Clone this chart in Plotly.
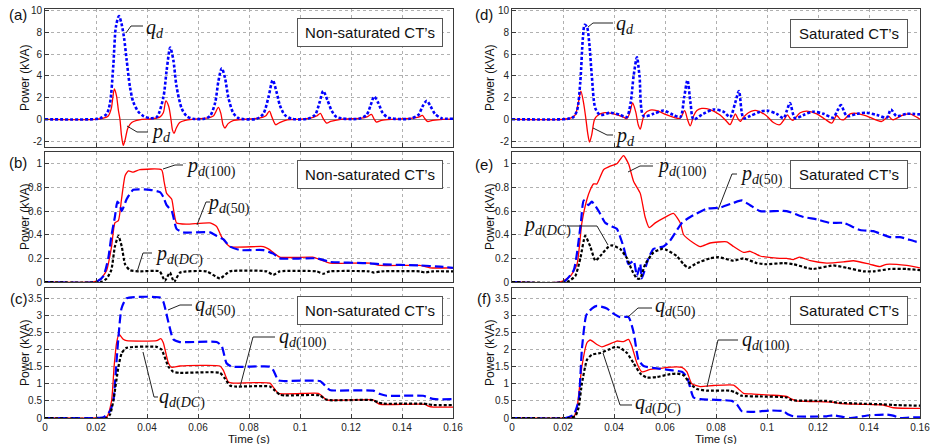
import plotly.graph_objects as go

W, H = 931, 444

# ---------------- data (time s, power kVA) ----------------
A_PD = [(0, 0), (0.020, 0), (0.0229, 0.1), (0.0248, 0.3), (0.026, 1.0), (0.0266, 2.0), (0.0272, 2.8),
        (0.028, 2.2), (0.0288, 0.8), (0.0294, 0), (0.030, -1.5), (0.0307, -2.4), (0.0315, -1.8),
        (0.0325, -0.8), (0.034, -0.3), (0.036, -0.1), (0.038, 0), (0.042, 0.05), (0.045, 0.2),
        (0.0464, 0.6), (0.0474, 1.7), (0.0485, 1.2), (0.0494, 0), (0.050, -1.0), (0.0506, -1.3),
        (0.0515, -0.8), (0.0528, -0.3), (0.055, -0.1), (0.058, 0), (0.063, 0.1), (0.066, 0.3),
        (0.068, 1.1), (0.069, 0.5), (0.0698, -0.5), (0.0706, -0.8), (0.0718, -0.4), (0.074, -0.1),
        (0.078, 0), (0.084, 0.1), (0.0865, 0.3), (0.088, 0.75), (0.089, 0.2), (0.0905, -0.5),
        (0.092, -0.3), (0.095, -0.05), (0.100, 0), (0.104, 0.1), (0.1065, 0.3), (0.108, 0.55),
        (0.109, 0.1), (0.1105, -0.35), (0.112, -0.2), (0.116, 0), (0.124, 0.1), (0.1265, 0.25),
        (0.128, 0.45), (0.129, 0.05), (0.130, -0.25), (0.132, -0.1), (0.136, 0), (0.144, 0.1),
        (0.1465, 0.2), (0.148, 0.35), (0.149, 0.05), (0.150, -0.2), (0.152, -0.1), (0.156, 0), (0.16, 0)]
A_QD = [(0, 0), (0.020, 0.02), (0.0216, 0.1), (0.0242, 0.5), (0.0255, 1.5), (0.0268, 5.0), (0.0278, 8.5),
        (0.029, 9.5), (0.030, 8.8), (0.031, 7.5), (0.032, 5.5), (0.0333, 3.0), (0.0346, 1.6),
        (0.0366, 0.7), (0.0386, 0.3), (0.0412, 0.1), (0.0438, 0.2), (0.0464, 2.0), (0.0477, 4.5),
        (0.0491, 6.6), (0.0503, 5.5), (0.0516, 3.0), (0.0536, 1.0), (0.0555, 0.3), (0.058, 0.05),
        (0.0625, 0.05), (0.0647, 0.3), (0.0667, 1.5), (0.068, 3.5), (0.0693, 4.7), (0.0706, 3.8),
        (0.0719, 2.0), (0.0738, 0.6), (0.076, 0.1), (0.083, 0.05), (0.0856, 0.5), (0.0876, 2.0),
        (0.0893, 3.6), (0.0908, 2.5), (0.0921, 1.3), (0.094, 0.4), (0.0967, 0.05), (0.103, 0.05),
        (0.1059, 0.4), (0.1076, 1.5), (0.1091, 2.6), (0.1107, 1.8), (0.1124, 0.8), (0.1144, 0.2),
        (0.123, 0.05), (0.1261, 0.4), (0.1277, 1.3), (0.1291, 2.1), (0.1307, 1.5), (0.1324, 0.6),
        (0.1346, 0.15), (0.143, 0.05), (0.1464, 0.4), (0.1481, 1.2), (0.1497, 1.7), (0.1512, 1.2),
        (0.1529, 0.5), (0.1555, 0.1), (0.16, 0.05)]

B_P100 = [(0, 0), (0.019, 0), (0.0216, 0.02), (0.0242, 0.1), (0.0261, 0.3), (0.0274, 0.5), (0.0288, 0.52),
          (0.030, 0.7), (0.0314, 0.9), (0.0327, 0.94), (0.0346, 0.93), (0.0372, 0.95), (0.0457, 0.95),
          (0.0467, 0.85), (0.0477, 0.75), (0.0497, 0.7), (0.0505, 0.6), (0.0516, 0.5), (0.0555, 0.49),
          (0.0647, 0.5), (0.0673, 0.47), (0.0693, 0.38), (0.0725, 0.3), (0.0856, 0.3), (0.0876, 0.28),
          (0.0895, 0.25), (0.0921, 0.21), (0.105, 0.21), (0.1078, 0.19), (0.1118, 0.16), (0.1274, 0.16),
          (0.1314, 0.14), (0.147, 0.14), (0.151, 0.12), (0.16, 0.12)]
B_P50 = [(0, 0), (0.020, 0), (0.0229, 0.05), (0.0248, 0.2), (0.0261, 0.4), (0.0274, 0.55), (0.0284, 0.68),
         (0.0294, 0.65), (0.0301, 0.6), (0.032, 0.7), (0.0346, 0.78), (0.0412, 0.78), (0.0451, 0.76),
         (0.0464, 0.72), (0.0477, 0.65), (0.0497, 0.6), (0.0516, 0.45), (0.0542, 0.42), (0.0647, 0.42),
         (0.0673, 0.39), (0.070, 0.36), (0.0725, 0.3), (0.0765, 0.27), (0.0856, 0.27), (0.0895, 0.24),
         (0.0921, 0.2), (0.1065, 0.2), (0.1118, 0.17), (0.1261, 0.16), (0.1314, 0.15), (0.147, 0.14),
         (0.155, 0.13), (0.16, 0.12)]
B_PDC = [(0, 0), (0.022, 0), (0.0242, 0.03), (0.026, 0.1), (0.0274, 0.3), (0.0288, 0.39), (0.0301, 0.3),
         (0.0314, 0.15), (0.0333, 0.1), (0.0372, 0.09), (0.045, 0.09), (0.047, 0.01), (0.049, 0.08),
         (0.0506, 0.0), (0.053, 0.08), (0.0634, 0.09), (0.0686, 0.03), (0.0725, 0.09), (0.0869, 0.09),
         (0.0895, 0.06), (0.0921, 0.09), (0.1065, 0.09), (0.109, 0.07), (0.1117, 0.09), (0.127, 0.09),
         (0.129, 0.08), (0.132, 0.09), (0.147, 0.09), (0.149, 0.08), (0.152, 0.09), (0.16, 0.09)]

C_Q50 = [(0, 0), (0.0196, 0), (0.0229, 0.02), (0.0255, 0.2), (0.0268, 0.5), (0.0284, 2.0), (0.030, 3.2),
         (0.032, 3.5), (0.0451, 3.52), (0.0464, 3.4), (0.0484, 2.8), (0.0503, 2.3), (0.0529, 2.22),
         (0.0673, 2.22), (0.0693, 2.1), (0.0712, 1.6), (0.0732, 1.5), (0.0882, 1.5), (0.0895, 1.4),
         (0.0915, 1.1), (0.094, 1.08), (0.1078, 1.08), (0.1098, 0.95), (0.1117, 0.82), (0.1287, 0.8),
         (0.1314, 0.7), (0.134, 0.65), (0.1483, 0.65), (0.151, 0.58), (0.153, 0.55), (0.16, 0.55)]
C_Q100 = [(0, 0), (0.020, 0), (0.0242, 0.03), (0.0261, 0.5), (0.0271, 1.5), (0.0281, 2.2), (0.029, 2.45),
          (0.0307, 2.3), (0.032, 2.26), (0.0438, 2.26), (0.0454, 2.32), (0.0464, 2.2), (0.0484, 1.6),
          (0.0497, 1.48), (0.0529, 1.52), (0.0686, 1.52), (0.0699, 1.4), (0.0719, 1.05), (0.0738, 1.02),
          (0.0882, 1.02), (0.0895, 0.9), (0.0915, 0.72), (0.1072, 0.72), (0.1085, 0.65), (0.1104, 0.53),
          (0.1287, 0.53), (0.1301, 0.45), (0.1314, 0.4), (0.149, 0.4), (0.1503, 0.35), (0.1523, 0.32),
          (0.16, 0.32)]
C_QDC = [(0, 0), (0.0242, 0), (0.0255, 0.1), (0.0268, 0.5), (0.0288, 1.5), (0.0301, 1.9), (0.032, 2.05),
         (0.0438, 2.08), (0.0457, 2.0), (0.0484, 1.5), (0.0503, 1.35), (0.0529, 1.32), (0.0686, 1.32),
         (0.0706, 1.15), (0.0725, 0.95), (0.0745, 0.92), (0.0882, 0.92), (0.0902, 0.8), (0.0921, 0.68),
         (0.094, 0.66), (0.1078, 0.66), (0.1098, 0.55), (0.1117, 0.52), (0.1287, 0.52), (0.1307, 0.45),
         (0.1327, 0.42), (0.1483, 0.42), (0.1503, 0.4), (0.1523, 0.38), (0.16, 0.38)]

D_PD = [(0, 0), (0.020, 0), (0.0229, 0.1), (0.0248, 0.4), (0.026, 1.5), (0.027, 2.6), (0.028, 1.6),
        (0.029, 0), (0.0297, -1.3), (0.0304, -2.1), (0.0312, -1.5), (0.0324, 0), (0.0338, 0.4),
        (0.0359, 0.6), (0.0398, 0.5), (0.0437, 0.2), (0.045, 0.05), (0.0462, 0.6), (0.0473, 1.5),
        (0.0485, 0.7), (0.0495, -0.5), (0.0503, -0.9), (0.051, -0.3), (0.052, 0.5), (0.0542, 0.85),
        (0.0568, 0.8), (0.0607, 0.4), (0.0646, 0.1), (0.066, 0.1), (0.0677, 0.8), (0.0688, 0.0),
        (0.0699, -0.6), (0.0712, 0.3), (0.0725, 0.8), (0.0744, 1.0), (0.0777, 0.9), (0.0816, 0.4),
        (0.0842, -0.2), (0.0855, -0.5), (0.0866, 0.0), (0.0876, 0.5), (0.0885, 0.1), (0.0895, -0.2),
        (0.0908, 0.2), (0.0927, 0.6), (0.0947, 0.8), (0.096, 0.8), (0.0999, 0.3), (0.1025, -0.3),
        (0.105, -0.5), (0.1068, 0), (0.108, 0.4), (0.109, 0.1), (0.1101, -0.1), (0.113, 0.6),
        (0.1156, 0.75), (0.1195, 0.5), (0.1228, 0), (0.1254, -0.35), (0.1273, 0.35), (0.1287, 0.0),
        (0.130, -0.05), (0.1326, 0.5), (0.135, 0.55), (0.1391, 0.3), (0.145, -0.2), (0.1476, 0.3),
        (0.1489, 0.0), (0.1495, -0.05), (0.1535, 0.4), (0.156, 0.5), (0.1587, 0.2), (0.16, 0.0)]
D_QD = [(0, 0), (0.020, 0), (0.022, 0.05), (0.024, 0.2), (0.0255, 0.8), (0.0268, 3.5), (0.0278, 7.5),
        (0.0285, 8.7), (0.0294, 8.5), (0.0303, 7.0), (0.0313, 4.0), (0.0327, 1.0), (0.0346, 0.4),
        (0.0385, 0.6), (0.0424, 0.4), (0.045, 0.2), (0.0465, 1.5), (0.0477, 4.0), (0.049, 5.7),
        (0.050, 4.0), (0.0516, 0.3), (0.0555, 0.5), (0.0594, 0.8), (0.0633, 0.4), (0.066, 0.2),
        (0.0675, 2.0), (0.0688, 3.6), (0.070, 1.5), (0.0712, 0.0), (0.075, 0.5), (0.079, 0.9),
        (0.0829, 0.7), (0.0855, 0.2), (0.0875, 1.5), (0.089, 2.6), (0.0908, 0.1), (0.0934, 0.3),
        (0.0973, 0.7), (0.0999, 0.8), (0.1038, 0.5), (0.1065, 0.1), (0.1078, 0.8), (0.109, 1.5),
        (0.111, 0.1), (0.1143, 0.4), (0.118, 0.7), (0.1222, 0.5), (0.126, 0.15), (0.1276, 0.8),
        (0.129, 1.3), (0.1313, 0.3), (0.1352, 0.5), (0.139, 0.6), (0.1431, 0.4), (0.147, 0.15),
        (0.1486, 0.9), (0.1508, 0.3), (0.1547, 0.5), (0.16, 0.45)]

E_P100 = [(0, 0), (0.019, 0), (0.0229, 0.05), (0.0255, 0.15), (0.0274, 0.5), (0.0294, 0.7), (0.0307, 0.78),
          (0.032, 0.83), (0.0333, 0.83), (0.0359, 0.95), (0.0385, 0.98), (0.0411, 1.0), (0.0437, 1.07),
          (0.0457, 1.0), (0.0477, 0.85), (0.0503, 0.75), (0.0522, 0.55), (0.0538, 0.46), (0.0562, 0.5),
          (0.0594, 0.54), (0.0633, 0.58), (0.066, 0.5), (0.0673, 0.4), (0.0712, 0.33), (0.0738, 0.3),
          (0.0777, 0.33), (0.0842, 0.34), (0.0869, 0.3), (0.0908, 0.25), (0.0934, 0.26), (0.0973, 0.22),
          (0.105, 0.2), (0.1077, 0.2), (0.1103, 0.19), (0.1129, 0.21), (0.117, 0.18), (0.1234, 0.16),
          (0.130, 0.17), (0.1339, 0.18), (0.1404, 0.15), (0.1443, 0.13), (0.1469, 0.15), (0.1548, 0.14),
          (0.16, 0.12)]
E_P50 = [(0, 0), (0.0202, 0), (0.0242, 0.1), (0.027, 0.5), (0.0281, 0.69), (0.030, 0.65), (0.0313, 0.68),
         (0.034, 0.6), (0.0366, 0.5), (0.0392, 0.47), (0.0411, 0.45), (0.0437, 0.3), (0.0457, 0.15),
         (0.0477, 0.18), (0.049, 0.05), (0.0503, 0.15), (0.0509, 0.03), (0.0535, 0.2), (0.0555, 0.28),
         (0.0594, 0.3), (0.062, 0.35), (0.0666, 0.5), (0.0699, 0.55), (0.0764, 0.62), (0.0816, 0.63),
         (0.0869, 0.67), (0.0901, 0.69), (0.0934, 0.65), (0.0973, 0.6), (0.1077, 0.6), (0.1143, 0.55),
         (0.1195, 0.53), (0.1247, 0.5), (0.130, 0.5), (0.1365, 0.44), (0.1417, 0.43), (0.1482, 0.38),
         (0.1521, 0.38), (0.1587, 0.34), (0.16, 0.34)]
E_PDC = [(0, 0), (0.0215, 0), (0.0248, 0.05), (0.0268, 0.2), (0.0287, 0.39), (0.0307, 0.3), (0.0327, 0.18),
         (0.0346, 0.22), (0.0379, 0.3), (0.0392, 0.31), (0.0424, 0.28), (0.0451, 0.2), (0.047, 0.1),
         (0.049, 0.03), (0.0503, 0.03), (0.0522, 0.15), (0.0555, 0.25), (0.0588, 0.28), (0.0607, 0.27),
         (0.0646, 0.22), (0.0673, 0.15), (0.0692, 0.12), (0.0725, 0.16), (0.0777, 0.2), (0.081, 0.21),
         (0.0869, 0.18), (0.0908, 0.2), (0.096, 0.16), (0.0999, 0.15), (0.1064, 0.16), (0.1104, 0.15),
         (0.1156, 0.12), (0.1182, 0.11), (0.126, 0.14), (0.1313, 0.12), (0.1378, 0.09), (0.1417, 0.09),
         (0.1482, 0.11), (0.1548, 0.11), (0.16, 0.1)]

F_Q50 = [(0, 0), (0.021, 0), (0.0242, 0.1), (0.0261, 0.5), (0.0274, 2.0), (0.0291, 3.0), (0.0313, 3.2),
         (0.0333, 3.28), (0.0372, 3.2), (0.0398, 3.05), (0.0424, 2.95), (0.0457, 2.95), (0.0477, 2.5),
         (0.0496, 1.7), (0.0516, 1.52), (0.0568, 1.45), (0.062, 1.4), (0.0666, 1.35), (0.0686, 1.2),
         (0.0712, 0.6), (0.0738, 0.55), (0.0862, 0.5), (0.0882, 0.4), (0.0901, 0.2), (0.0947, 0.18),
         (0.1012, 0.22), (0.1064, 0.2), (0.1084, 0.1), (0.1103, 0.05), (0.1234, 0.05), (0.126, 0.08),
         (0.130, 0.03), (0.1326, 0.0), (0.1404, 0.08), (0.147, 0.1), (0.1495, 0.07), (0.1521, 0.0),
         (0.1574, 0.02), (0.16, 0.02)]
F_Q100 = [(0, 0), (0.021, 0), (0.0242, 0.03), (0.0255, 0.3), (0.0274, 1.5), (0.0294, 2.2), (0.0307, 2.28),
          (0.0333, 2.15), (0.0353, 2.08), (0.0379, 2.15), (0.0411, 2.25), (0.0437, 2.23), (0.0457, 2.3),
          (0.047, 2.1), (0.049, 1.6), (0.0509, 1.35), (0.0542, 1.42), (0.0581, 1.45), (0.0607, 1.48),
          (0.0666, 1.48), (0.0686, 1.35), (0.0705, 1.0), (0.0738, 0.92), (0.079, 0.95), (0.0869, 0.96),
          (0.0888, 0.85), (0.0908, 0.72), (0.0947, 0.7), (0.1012, 0.67), (0.1077, 0.63), (0.1097, 0.55),
          (0.1116, 0.5), (0.1182, 0.48), (0.126, 0.46), (0.1287, 0.42), (0.1365, 0.4), (0.1456, 0.38),
          (0.1495, 0.3), (0.16, 0.28)]
F_QDC = [(0, 0), (0.022, 0), (0.0248, 0.05), (0.0261, 0.3), (0.0274, 1.0), (0.0294, 1.7), (0.0313, 1.85),
         (0.0346, 1.9), (0.0379, 2.0), (0.0405, 2.08), (0.0424, 2.05), (0.0451, 1.9), (0.0477, 1.6),
         (0.0503, 1.3), (0.0529, 1.18), (0.0568, 1.2), (0.062, 1.28), (0.0646, 1.3), (0.0673, 1.25),
         (0.0699, 1.0), (0.0725, 0.85), (0.0764, 0.8), (0.0855, 0.8), (0.0875, 0.75), (0.0901, 0.65),
         (0.0973, 0.63), (0.1077, 0.6), (0.1097, 0.52), (0.1234, 0.5), (0.1274, 0.45), (0.1365, 0.42),
         (0.1456, 0.4), (0.1495, 0.38), (0.16, 0.36)]

X_TICKS = [0, 0.02, 0.04, 0.06, 0.08, 0.1, 0.12, 0.14, 0.16]
X_TICK_TEXT = ["0", "0.02", "0.04", "0.06", "0.08", "0.1", "0.12", "0.14", "0.16"]
Y_TICKS_TOP = [-2, 0, 2, 4, 6, 8, 10]
Y_TICK_TEXT_TOP = ["-2", "0", "2", "4", "6", "8", "10"]
Y_TICKS_MID = [0, 0.2, 0.4, 0.6, 0.8, 1]
Y_TICK_TEXT_MID = ["0", "0.2", "0.4", "0.6", "0.8", "1"]
Y_TICKS_BOT = [0, 0.5, 1, 1.5, 2, 2.5, 3, 3.5]
Y_TICK_TEXT_BOT = ["0", "0.5", "1", "1.5", "2", "2.5", "3", "3.5"]

# ---------------- layout helpers ----------------
SANS = "Liberation Sans, Arial, sans-serif"
SERIF = "Liberation Serif, Times New Roman, serif"
RED, BLUE, BLACK = "#ff0000", "#0000ff", "#000000"

COLS = [(45, 453), (512, 920)]             # px left/right of plot areas
ROWS = [(9, 147), (152, 282), (288, 418)]  # px top/bottom
YRANGES = [[-2.55, 10.15], [0, 1.1], [0, 3.8]]


def px(x):
    return x / W


def py(y):
    return 1 - y / H


fig = go.Figure()
layout = {}

for i in range(6):
    col, row = divmod(i, 3)
    n = i + 1
    common = dict(showline=True, mirror=True, linecolor="#3a3a3a", linewidth=1,
                  ticks="inside", ticklen=4, tickcolor="#3a3a3a",
                  showgrid=True, gridcolor="#b0b0b0", griddash="dot", gridwidth=1,
                  tickfont=dict(family=SANS, size=10, color="#222"), automargin=False)
    xa = dict(domain=[px(COLS[col][0]), px(COLS[col][1])], range=[0, 0.16], anchor="y%d" % n,
              tickvals=X_TICKS, ticktext=X_TICK_TEXT, showticklabels=(row == 2),
              zeroline=False, **common)
    yt, ytt = [(Y_TICKS_TOP, Y_TICK_TEXT_TOP), (Y_TICKS_MID, Y_TICK_TEXT_MID),
               (Y_TICKS_BOT, Y_TICK_TEXT_BOT)][row]
    ya = dict(domain=[py(ROWS[row][1]), py(ROWS[row][0])], range=YRANGES[row], anchor="x%d" % n,
              tickvals=yt, ticktext=ytt, zeroline=(row == 0), zerolinecolor="#8a8a8a",
              zerolinewidth=1, **common)
    key = "" if n == 1 else str(n)
    layout["xaxis" + key] = xa
    layout["yaxis" + key] = ya


def add(pairs, n, color, width, dash, smooth):
    t = [p[0] for p in pairs]
    v = [p[1] for p in pairs]
    fig.add_trace(go.Scatter(
        x=t, y=v, mode="lines", xaxis="x%d" % n, yaxis="y%d" % n,
        line=dict(color=color, width=width, dash=dash, shape="spline", smoothing=smooth),
        showlegend=False, hoverinfo="skip"))


DOTB = "3px,2px"
DASH = "9px,4px"
DOTK = "3px,2px"

add(A_PD, 1, RED, 1.3, "solid", 0.8)
add(A_QD, 1, BLUE, 2.6, DOTB, 0.8)
add(B_P100, 2, RED, 1.3, "solid", 0.5)
add(B_P50, 2, BLUE, 2.2, DASH, 0.5)
add(B_PDC, 2, BLACK, 2.2, DOTK, 0.5)
add(C_Q100, 3, RED, 1.3, "solid", 0.5)
add(C_Q50, 3, BLUE, 2.2, DASH, 0.5)
add(C_QDC, 3, BLACK, 2.2, DOTK, 0.5)
add(D_PD, 4, RED, 1.3, "solid", 0.8)
add(D_QD, 4, BLUE, 2.6, DOTB, 0.8)
add(E_P100, 5, RED, 1.3, "solid", 0.5)
add(E_P50, 5, BLUE, 2.2, DASH, 0.5)
add(E_PDC, 5, BLACK, 2.2, DOTK, 0.5)
add(F_Q100, 6, RED, 1.3, "solid", 0.5)
add(F_Q50, 6, BLUE, 2.2, DASH, 0.5)
add(F_QDC, 6, BLACK, 2.2, DOTK, 0.5)

annotations = []
shapes = []


def note(text, x, y, size, family=SANS, **kw):
    d = dict(text=text, x=px(x), y=py(y), xref="paper", yref="paper", showarrow=False,
             xanchor="center", yanchor="middle", font=dict(family=family, size=size, color="#111"))
    d.update(kw)
    annotations.append(d)


# panel letters
for letter, (x, y) in zip(["(a)", "(b)", "(c)", "(d)", "(e)", "(f)"],
                          [(18, 15), (18, 162), (19, 298), (484, 15), (484, 164), (484, 298)]):
    note(letter, x, y, 15)

# y titles and x titles
for x in (25, 490):
    for (t, b) in ROWS:
        note("Power (kVA)", x, (t + b) / 2, 12, textangle=-90)
for x in (249, 716):
    note("Time (s)", x, 438.5, 11.5)

# condition boxes
BOXES = [("Non-saturated CT’s", 370, 32, 140), ("Non-saturated CT’s", 370, 174, 140),
         ("Non-saturated CT’s", 370, 310, 140), ("Saturated CT’s", 849, 33, 112),
         ("Saturated CT’s", 849, 174, 112), ("Saturated CT’s", 849, 310, 112)]
for txt, cx, cy, w in BOXES:
    note(txt, cx, cy, 15, width=w, height=23, borderpad=2, bordercolor="#555", borderwidth=1,
         bgcolor="white")


def lab(sym, sub):
    return "<i>%s</i><sub>%s</sub>" % (sym, sub)


LABELS = [
    (lab("q", "<i>d</i>"), 144, 28, [(126, 33), (131, 26), (143, 26)]),
    (lab("p", "<i>d</i>"), 149, 132, [(127, 126), (137, 132), (148, 132)]),
    (lab("p", "<i>d</i>(100)"), 184, 167, [(163, 169), (175, 165), (183, 165)]),
    (lab("p", "<i>d</i>(50)"), 205, 204, [(197, 225), (206, 202), (210, 202)]),
    (lab("p", "<i>d</i>(<i>DC</i>)"), 153, 255, [(137, 272), (143, 253), (152, 253)]),
    (lab("q", "<i>d</i>(50)"), 193, 306, [(168, 310), (180, 305), (192, 305)]),
    (lab("q", "<i>d</i>(100)"), 277, 338, [(240, 387), (253, 337), (275, 337)]),
    (lab("q", "<i>d</i>(<i>DC</i>)"), 157, 398, [(143, 352), (154, 397), (158, 397)]),
    (lab("q", "<i>d</i>"), 614, 25, [(588, 27), (593, 23), (613, 23)]),
    (lab("p", "<i>d</i>"), 613, 136, [(593, 128), (607, 135), (613, 135)]),
    (lab("p", "<i>d</i>(100)"), 655, 167, [(628, 172), (640, 166), (653, 166)]),
    (lab("p", "<i>d</i>(50)"), 738, 175, [(718, 210), (732, 174), (737, 174)]),
    (lab("p", "<i>d</i>(<i>DC</i>)"), 521, 226, [(567, 226), (597, 226), (608, 245)]),
    (lab("q", "<i>d</i>(50)"), 653, 307, [(628, 317), (638, 308), (652, 308)]),
    (lab("q", "<i>d</i>(100)"), 740, 341, [(707, 387), (718, 340), (738, 340)]),
    (lab("q", "<i>d</i>(<i>DC</i>)"), 633, 404, [(603, 353), (620, 405), (632, 405)]),
]
for txt, lx, ly, pts in LABELS:
    note(txt, lx, ly, 20, family=SERIF, xanchor="left")
    path = "M %f %f" % (px(pts[0][0]), py(pts[0][1]))
    for (x, y) in pts[1:]:
        path += " L %f %f" % (px(x), py(y))
    shapes.append(dict(type="path", path=path, xref="paper", yref="paper",
                       line=dict(color="#222", width=1)))

fig.update_layout(width=W, height=H, margin=dict(l=0, r=0, t=0, b=0),
                  paper_bgcolor="white", plot_bgcolor="white",
                  annotations=annotations, shapes=shapes, **layout)
fig.write_html("out.html", config={"displayModeBar": False},
               post_script="document.body.style.margin='0';document.body.style.overflow='hidden';")
